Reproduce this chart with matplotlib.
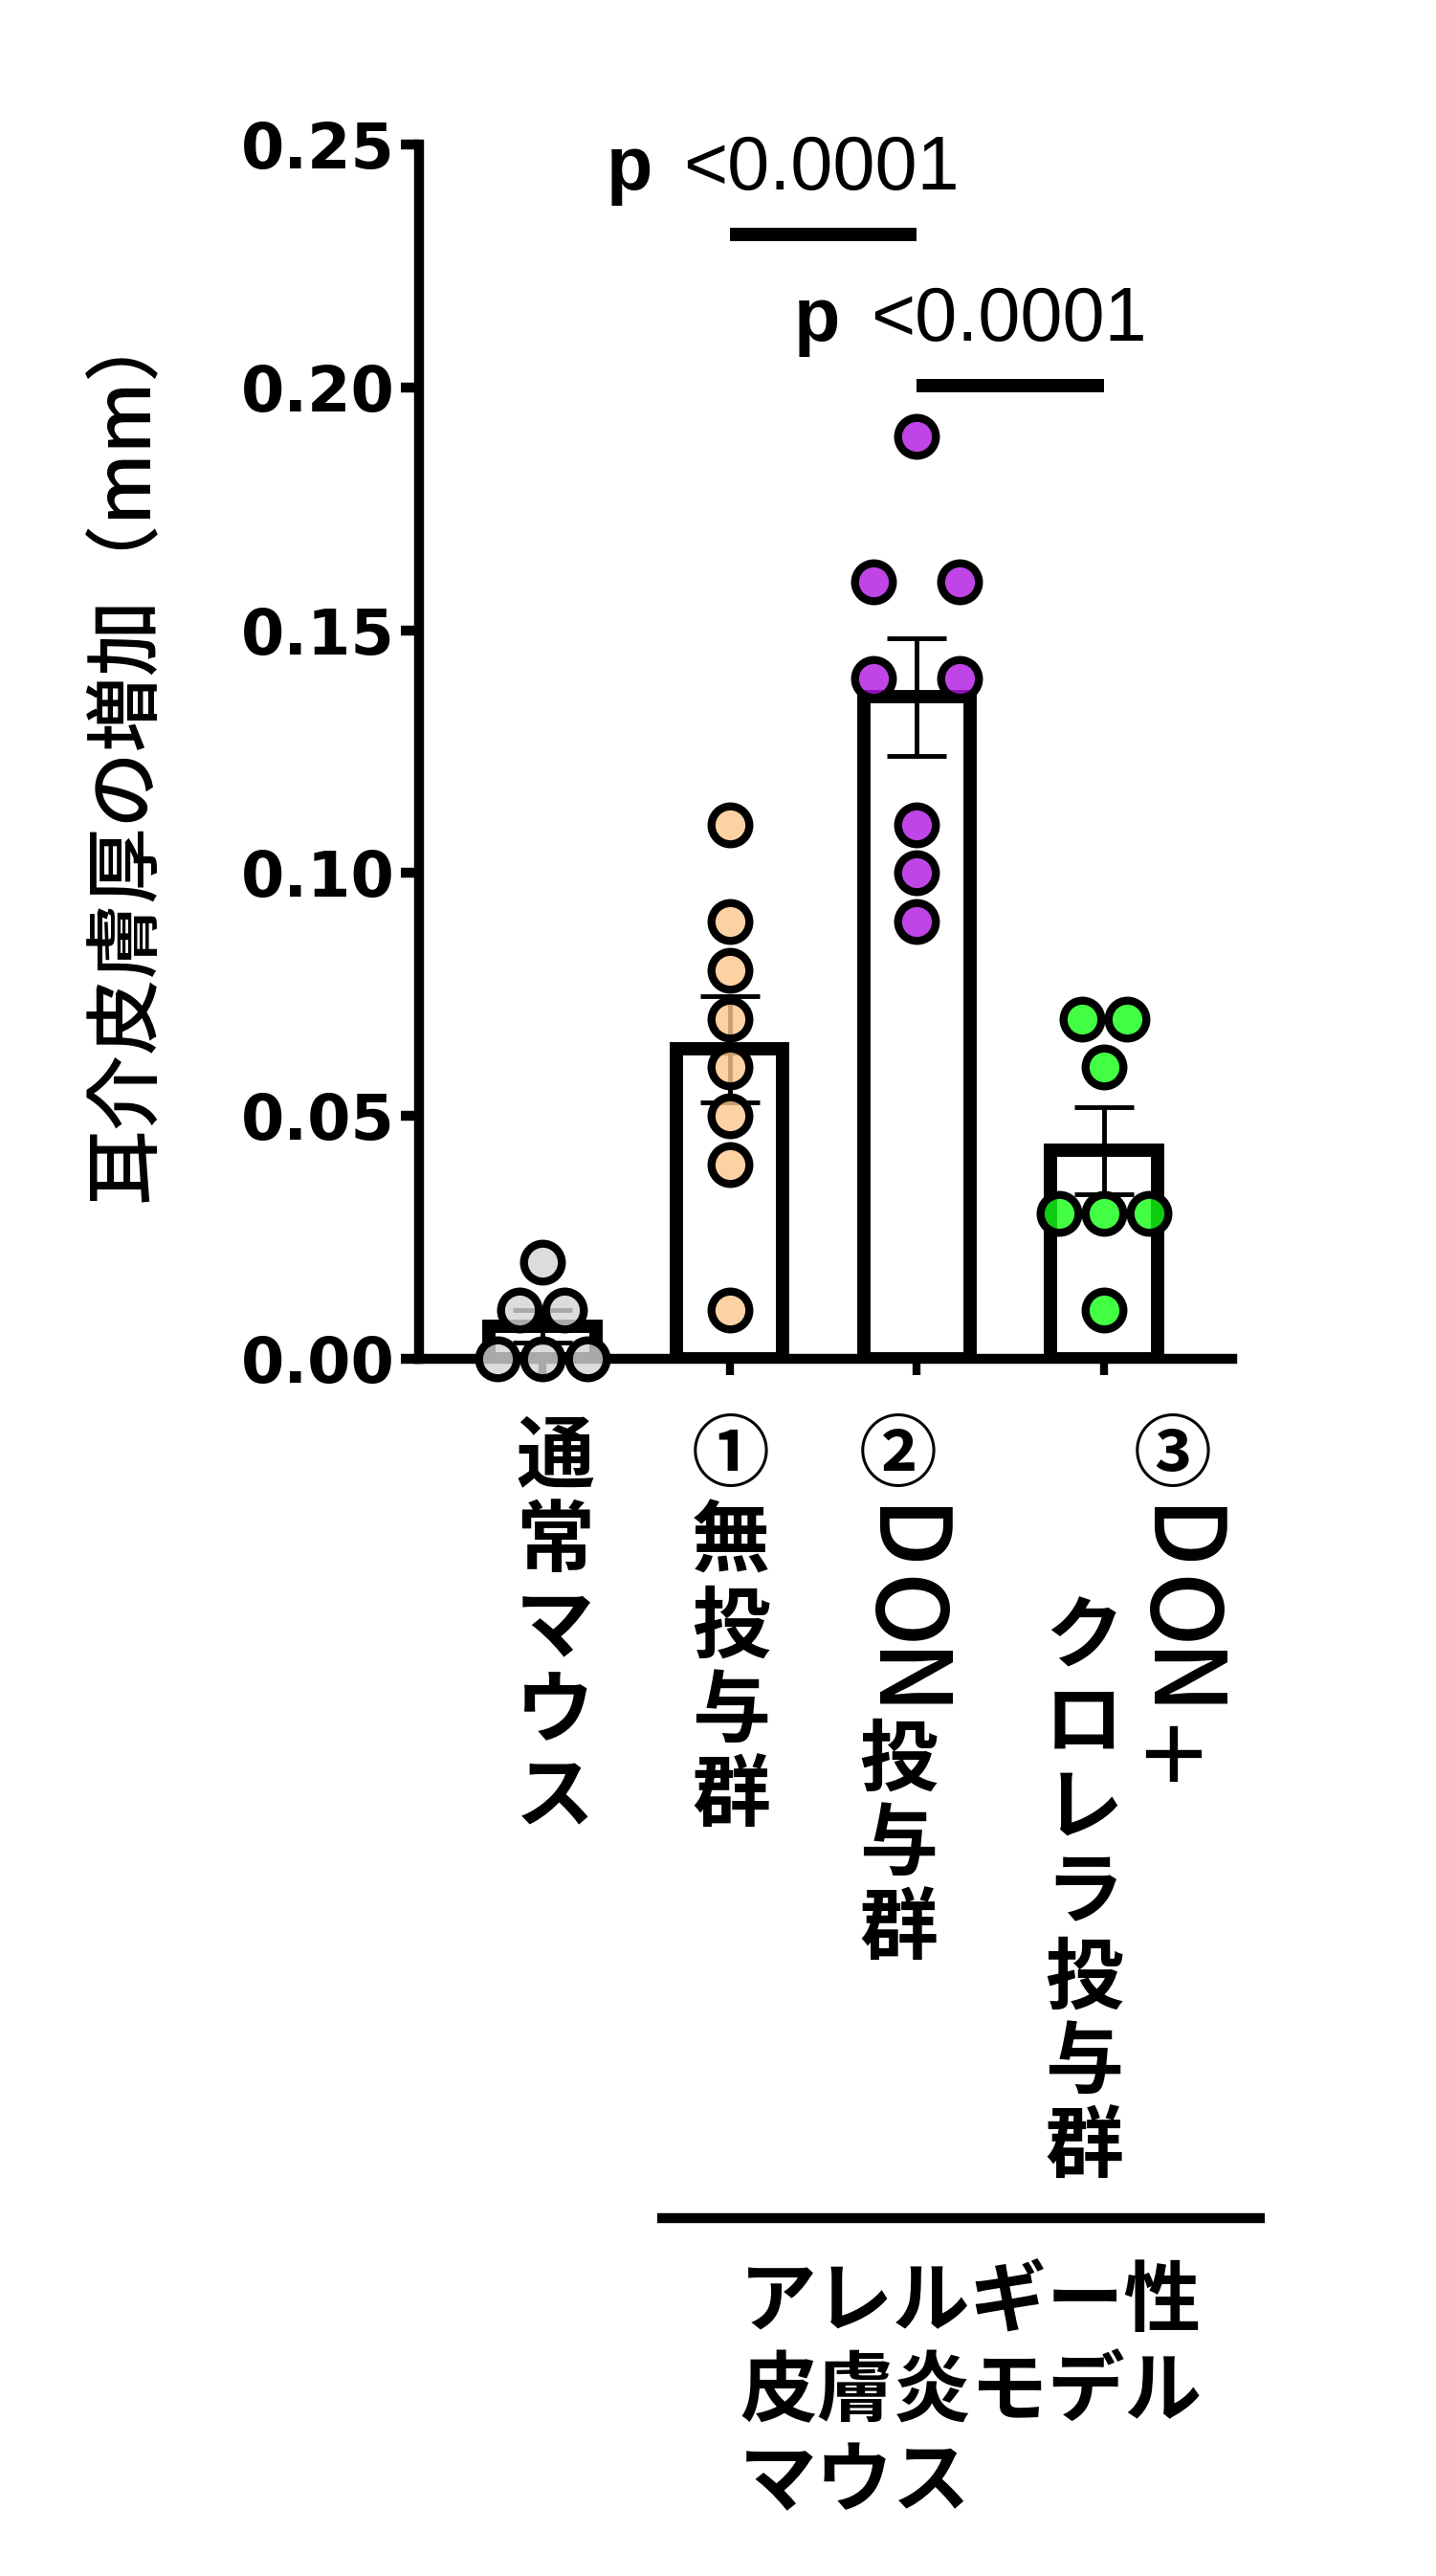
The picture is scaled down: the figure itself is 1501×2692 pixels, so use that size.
import numpy as np
import matplotlib
matplotlib.use("Agg")
import matplotlib.pyplot as plt
from matplotlib.lines import Line2D

# groups (x labels are drawn as vertical Japanese text)
group_labels = [["通常マウス"], ["①無投与群"], ["②DON投与群"], ["③DON＋", "クロレラ投与群"]]
normal_mouse = [0.02, 0.01, 0.01, 0.00, 0.00, 0.00]
no_treatment = [0.11, 0.09, 0.08, 0.07, 0.06, 0.05, 0.04, 0.01]
don_group = [0.19, 0.16, 0.16, 0.14, 0.14, 0.11, 0.10, 0.09]
don_chlorella = [0.07, 0.07, 0.06, 0.03, 0.03, 0.03, 0.01]
y_ticks = [0.00, 0.05, 0.10, 0.15, 0.20, 0.25]
comparisons = [(1, 2), (2, 3)]
p_texts = ["<0.0001", "<0.0001"]
ylabel = "耳介皮膚厚の増加（mm）"
bracket_text = ["アレルギー性", "皮膚炎モデル", "マウス"]

all_groups = [normal_mouse, no_treatment, don_group, don_chlorella]
# face colours (semi transparent, like the original)
face_colors = [(0.83, 0.83, 0.83, 0.8), (0.99, 0.78, 0.56, 0.8),
               (0.69, 0.09, 0.88, 0.8), (0.08, 1.0, 0.08, 0.8)]
spread_step = [0.24, 0.24, 0.46, 0.24]
sig_heights = [0.2314, 0.2003]

plt.rcParams['font.family'] = ['Noto Sans CJK JP', 'DejaVu Sans']

W, H = 1501, 2692
fig = plt.figure(figsize=(W / 100, H / 100), dpi=100)
ax = fig.add_axes([0.2918, 0.4725, 0.5663, 0.4714])

x = np.arange(len(all_groups))
means = np.array([np.mean(g) for g in all_groups])
sems = np.array([np.std(g, ddof=1) / np.sqrt(len(g)) for g in all_groups])

ax.bar(x, means, width=0.57, color='white', edgecolor='black', linewidth=10, zorder=2)
ax.errorbar(x, means, yerr=sems, fmt='none', ecolor='black', elinewidth=3.5,
            capsize=22, capthick=3.5, zorder=3)


def spread(vals, step):
    # put equal values side by side, centred on the group
    vals = np.asarray(vals)
    off = np.zeros(len(vals))
    for v in np.unique(vals):
        idx = np.where(np.isclose(vals, v))[0]
        off[idx] = (np.arange(len(idx)) - (len(idx) - 1) / 2) * step
    return off


for i, vals in enumerate(all_groups):
    xs = x[i] + spread(vals, spread_step[i])
    ax.plot(xs, vals, linestyle='none', marker='o', ms=28.5, mfc=face_colors[i],
            mec='black', mew=6, clip_on=False, zorder=4)

# significance lines
for (a, b), pt, yl in zip(comparisons, p_texts, sig_heights):
    ax.plot([a, b], [yl, yl], color='black', lw=10, solid_capstyle='butt', clip_on=False)
    ax.text(a - 0.41, yl + 0.0093, "p", ha='right', va='baseline', fontsize=57,
            fontweight='bold', family=['Liberation Sans'], clip_on=False)
    ax.text(a - 0.245, yl + 0.0093, pt, ha='left', va='baseline', fontsize=57,
            family=['Liberation Sans'], clip_on=False)

ax.set_xlim(-0.658, 3.684)
ax.set_ylim(0, 0.25)
ax.set_yticks(y_ticks)
ax.set_yticklabels([f"{t:.2f}" for t in y_ticks], family=['DejaVu Sans'],
                   fontweight='heavy', fontsize=47)
ax.set_xticks(x)
ax.set_xticklabels([])
for s in ['top', 'right']:
    ax.spines[s].set_visible(False)
for s in ['left', 'bottom']:
    ax.spines[s].set_linewidth(7.5)
ax.tick_params(axis='y', direction='out', length=14, width=7.5, pad=4)
ax.tick_params(axis='x', direction='out', length=12, width=6)

ax.set_ylabel(ylabel, fontsize=57, fontweight='medium')
ax.yaxis.set_label_coords(-0.312, 0.5)

# vertical x labels (tategaki): latin letters turned sideways
col_x = [[580], [764], [939], [1226, 1133]]
col_top = [[1479], [1479], [1479], [1479, 1668]]
pitch, latin_pitch = 89, 76
for cols, xs_px, tops in zip(group_labels, col_x, col_top):
    for text, xp, top in zip(cols, xs_px, tops):
        y = top
        for ch in text:
            if ch.isascii():
                fig.text(xp / W, 1 - (y + 4 + latin_pitch / 2) / H, ch, rotation=270,
                         ha='center', va='center', fontsize=74, fontweight='medium')
                y += latin_pitch
            else:
                fig.text(xp / W, 1 - (y + pitch / 2) / H, ch, ha='center',
                         va='center', fontsize=59, fontweight='bold')
                y += pitch

# bracket under groups 1-3
fig.add_artist(Line2D([687 / W, 1322 / W], [1 - 2318 / H, 1 - 2318 / H],
                      color='black', lw=7.5, solid_capstyle='butt'))
for j, line in enumerate(bracket_text):
    fig.text(773 / W, 1 - (2366 + 94 * j) / H, line, ha='left', va='top',
             fontsize=58, fontweight='bold')

fig.savefig('out.png', dpi=100, facecolor='white')
